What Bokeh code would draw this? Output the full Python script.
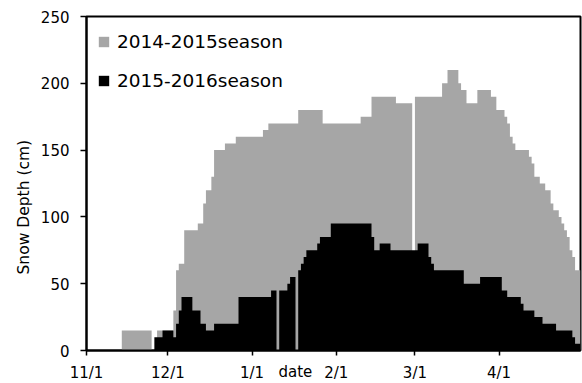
import numpy as np
import pandas as pd
from bokeh.plotting import figure
from bokeh.models import Range1d, FixedTicker, Legend, LegendItem, Title, ColumnDataSource
from bokeh.embed import file_html
from bokeh.resources import INLINE

# ---- data (daily snow depth, cm; day 0 = 2015-11-01) ----
start_date = "2015-11-01"
end_date = "2016-05-01"

depth_2014_2015 = (
    [0] * 13 + [15] * 11 + [0] * 2 + [15] * 6 + [30] + [60] + [65] * 2 + [90] * 5 + [95] * 2 +
    [110] + [120] * 2 + [130] + [150] * 4 + [155] * 4 + [160] * 10 + [165] * 2 + [170] * 11 +
    [180] * 9 + [170] * 14 + [175] * 4 + [190] * 9 + [185] * 6 + [0] + [190] * 10 + [200] * 2 +
    [210] * 4 + [200] + [195] * 2 + [185] * 4 + [195] * 5 + [190] * 2 + [180] * 3 + [175] +
    [170] + [160] + [155] + [150] * 5 + [145] + [140] + [130] * 2 + [125] * 2 + [120] * 2 +
    [110] + [105] * 2 + [100] + [95] + [90] + [85] + [75] + [70] + [60] * 2
)

depth_2015_2016 = (
    [0] * 25 + [10] * 3 + [15] * 4 + [10] + [20] + [30] + [40] * 4 + [30] * 3 + [20] * 2 +
    [15] * 3 + [20] * 9 + [40] * 12 + [45] * 2 + [0] + [45] * 3 + [50] + [55] * 2 + [0] +
    [60] + [65] + [70] + [75] * 4 + [80] + [85] * 4 + [95] * 15 + [85] + [75] * 2 + [80] * 4 +
    [75] * 10 + [80] * 4 + [70] + [65] + [60] * 11 + [50] * 6 + [55] * 8 + [45] * 2 + [40] * 5 +
    [35] + [30] * 4 + [25] * 3 + [20] * 5 + [15] * 6 + [10] + [5] * 2
)

series_names = ["2014-2015season", "2015-2016season"]
series_colors = ["#a6a6a6", "#000000"]

tick_dates = ["2015-11-01", "2015-12-01", "2016-01-01", "2016-02-01", "2016-03-01", "2016-04-01"]
tick_labels = ["11/1", "12/1", "1/1", "2/1", "3/1", "4/1"]
y_ticks = [0, 50, 100, 150, 200, 250]

x_title = "date"
y_title = "Snow Depth (cm)"

# ---- build ----
t0 = pd.to_datetime(start_date)
n_days = (pd.to_datetime(end_date) - t0).days
tick_pos = [(pd.to_datetime(d) - t0).days for d in tick_dates]

FONT = "DejaVu Sans"
NBSP = "\u00a0"

p = figure(width=582, height=383, x_range=Range1d(0, n_days), y_range=Range1d(0, 250),
           output_backend="svg", toolbar_location=None,
           min_border_left=86, min_border_right=2, min_border_top=16, min_border_bottom=33)
p.grid.visible = False
p.outline_line_color = "black"
p.outline_line_width = 2
p.background_fill_color = "white"
p.border_fill_color = "white"

renderers = []
for vals, color in zip([depth_2014_2015, depth_2015_2016], series_colors):
    edges = np.arange(len(vals) + 1)
    src = ColumnDataSource(dict(x=edges, top=list(vals) + [0], bottom=[0] * (len(vals) + 1)))
    r = p.varea_step(x="x", y1="bottom", y2="top", step_mode="after", source=src,
                     fill_color=color)
    renderers.append(r)

for ax in (p.xaxis[0], p.yaxis[0]):
    ax.axis_line_width = 2
    ax.axis_line_color = "black"
    ax.major_tick_line_width = 1.5
    ax.major_tick_in = 0
    ax.minor_tick_line_color = None
    ax.major_label_text_font = FONT
    ax.major_label_text_font_size = "15px"
    ax.major_label_text_color = "black"

p.xaxis.ticker = FixedTicker(ticks=tick_pos)
p.xaxis.major_label_overrides = {pos: lab for pos, lab in zip(tick_pos, tick_labels)}
p.xaxis.major_tick_out = 5
p.xaxis.major_label_standoff = 8
# x title: shifted left of the axis centre (as in the original) with trailing no-break spaces
p.xaxis.axis_label = x_title + NBSP * 16
p.xaxis.axis_label_standoff = -22
p.xaxis.axis_label_text_font = FONT
p.xaxis.axis_label_text_font_size = "15px"
p.xaxis.axis_label_text_font_style = "normal"
p.xaxis.axis_label_text_color = "black"

p.yaxis.ticker = FixedTicker(ticks=y_ticks)
p.yaxis.major_tick_out = 6
p.yaxis.major_label_standoff = 11

legend = Legend(items=[LegendItem(label=n, renderers=[r]) for n, r in zip(series_names, renderers)],
                location=(11, 259), orientation="vertical")
legend.label_text_font = FONT
legend.label_text_font_size = "18.5px"
legend.label_text_color = "black"
legend.glyph_width = 13
legend.glyph_height = 13
legend.label_standoff = 7
legend.spacing = 18
legend.padding = 0
legend.margin = 0
legend.border_line_color = None
legend.background_fill_alpha = 0
p.add_layout(legend, "center")

ytitle = Title(text=y_title, align="left", offset=76, standoff=10,
               text_font=FONT, text_font_size="15.5px", text_font_style="normal",
               text_color="black")
p.add_layout(ytitle, "left")

open("out.html", "w").write(file_html(p, INLINE))
